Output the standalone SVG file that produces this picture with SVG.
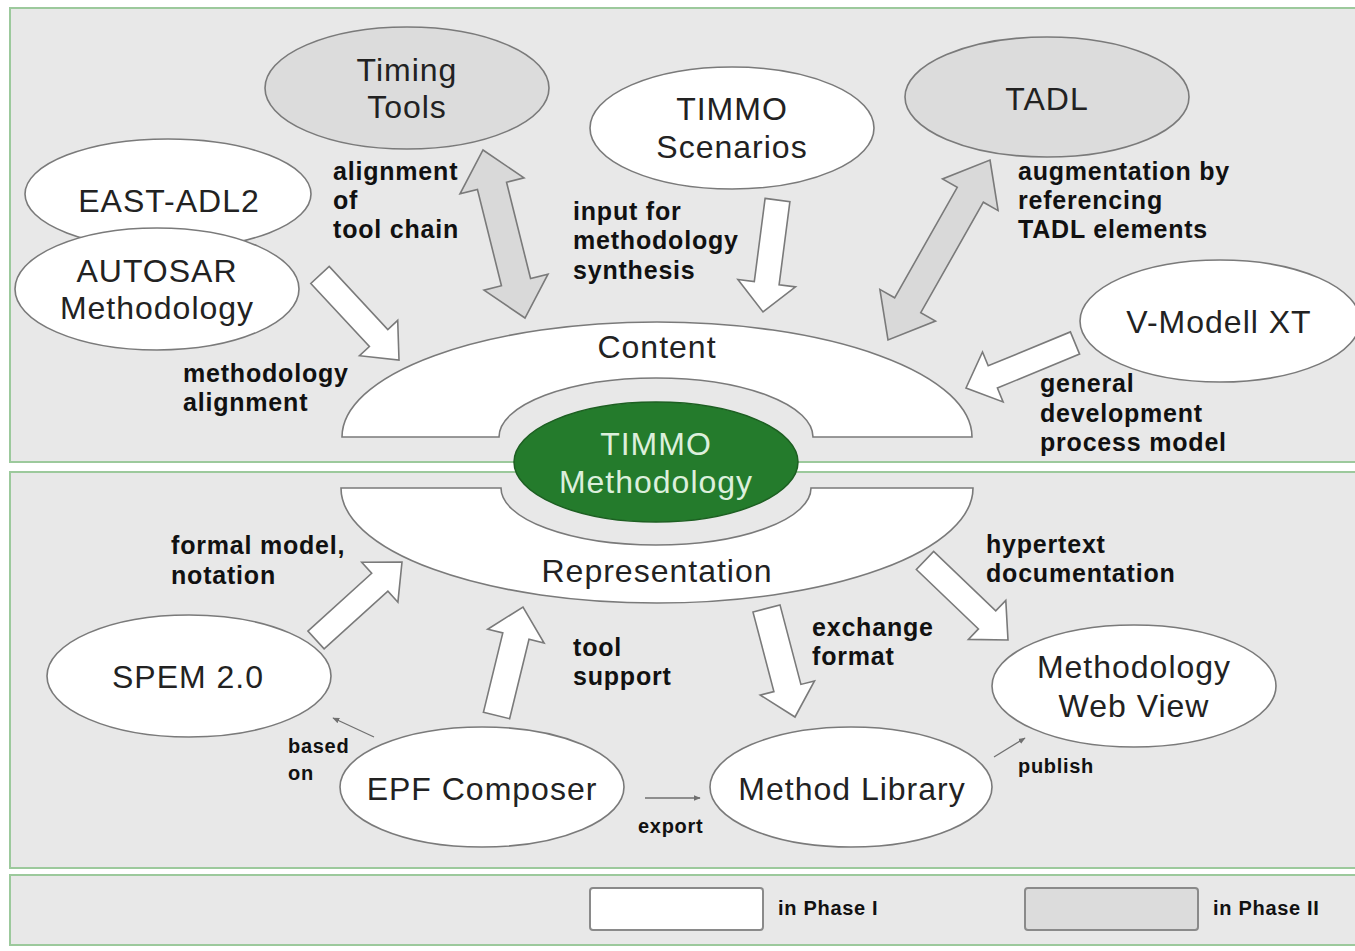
<svg xmlns="http://www.w3.org/2000/svg" width="1355" height="951" viewBox="0 0 1355 951">
<style>
.panel{fill:#e8e8e8;stroke:#9cc99c;stroke-width:2}
.wn{fill:#ffffff;stroke:#7a7a7a;stroke-width:1.6}
.gn{fill:#dcdcdc;stroke:#7a7a7a;stroke-width:1.6}
.nt{font-family:"Liberation Sans",Arial,sans-serif;font-size:32px;fill:#222;text-anchor:middle;letter-spacing:1px}
.lb{font-family:"Liberation Sans",Arial,sans-serif;font-size:25px;font-weight:bold;fill:#111;letter-spacing:0.8px}
.sm{font-family:"Liberation Sans",Arial,sans-serif;font-size:20px;font-weight:bold;fill:#111;letter-spacing:0.7px}
.wa{fill:#ffffff;stroke:#7a7a7a;stroke-width:1.6;stroke-linejoin:miter}
.ga{fill:#d9d9d9;stroke:#7a7a7a;stroke-width:1.6}
.thin{stroke:#707070;stroke-width:1.3;fill:none;marker-end:url(#ah)}
</style>
<defs>
<marker id="ah" viewBox="0 0 10 10" refX="9" refY="5" markerWidth="7" markerHeight="7" orient="auto" markerUnits="userSpaceOnUse">
<path d="M0,1 L10,5 L0,9 Z" fill="#707070"/>
</marker>
</defs>
<rect width="1355" height="951" fill="#ffffff"/>
<g id="panels">
<rect class="panel" x="10" y="8" width="1352" height="454"/>
<rect class="panel" x="10" y="472" width="1352" height="396"/>
<rect class="panel" x="10" y="875" width="1352" height="70"/>
</g>
<g id="content">
<path class="wn" d="M342,437 A315,115 0 0 1 972,437 L813,437 A157,59 0 0 0 499,437 Z"/>
<text class="nt" x="657" y="358">Content</text>
</g>
<g id="representation">
<path class="wn" d="M341,488 L501,488 A155,57 0 0 0 811,488 L973,488 A316,115 0 0 1 341,488 Z"/>
<text class="nt" x="657" y="582">Representation</text>
</g>
<g id="timmo-methodology">
<ellipse cx="656" cy="462" rx="142" ry="60" fill="#247b2c" stroke="#1d5f22" stroke-width="1.5"/>
<text class="nt" x="656" y="455" style="fill:#dcefdc">TIMMO</text>
<text class="nt" x="656" y="493" style="fill:#dcefdc">Methodology</text>
</g>
<g id="timing-tools">
<ellipse class="gn" cx="407" cy="88" rx="142" ry="61"/>
<text class="nt" x="407" y="81">Timing</text>
<text class="nt" x="407" y="118">Tools</text>
</g>
<g id="east-adl2">
<ellipse class="wn" cx="168" cy="194" rx="143" ry="55"/>
<text class="nt" x="169" y="212">EAST-ADL2</text>
</g>
<g id="autosar">
<ellipse class="wn" cx="157" cy="289" rx="142" ry="61"/>
<text class="nt" x="157" y="282">AUTOSAR</text>
<text class="nt" x="157" y="319">Methodology</text>
</g>
<g id="timmo-scenarios">
<ellipse class="wn" cx="732" cy="128" rx="142" ry="61"/>
<text class="nt" x="732" y="120">TIMMO</text>
<text class="nt" x="732" y="158">Scenarios</text>
</g>
<g id="tadl">
<ellipse class="gn" cx="1047" cy="97" rx="142" ry="60"/>
<text class="nt" x="1047" y="110">TADL</text>
</g>
<g id="v-modell">
<ellipse class="wn" cx="1220" cy="321" rx="140" ry="61"/>
<text class="nt" x="1219" y="333">V-Modell XT</text>
</g>
<g id="spem">
<ellipse class="wn" cx="189" cy="676" rx="142" ry="61"/>
<text class="nt" x="188" y="688">SPEM 2.0</text>
</g>
<g id="epf-composer">
<ellipse class="wn" cx="482" cy="787" rx="142" ry="60"/>
<text class="nt" x="482" y="800">EPF Composer</text>
</g>
<g id="method-library">
<ellipse class="wn" cx="851" cy="787" rx="141" ry="60"/>
<text class="nt" x="852" y="800">Method Library</text>
</g>
<g id="web-view">
<ellipse class="wn" cx="1134" cy="686" rx="142" ry="61"/>
<text class="nt" x="1134" y="678">Methodology</text>
<text class="nt" x="1134" y="717">Web View</text>
</g>
<g id="connectors">
<polygon class="ga" points="483,150 524,177.9 506.55,182.3 530.55,278.5 548,274.1 525,318 484,290.1 501.45,285.7 477.45,189.5 460,193.9"/>
<polygon class="ga" points="990,160 998.1,210.6 983.35,202.2 920.75,312.6 935.5,321 888,340 879.9,289.4 894.65,297.8 957.25,187.4 942.5,179"/>
<polygon class="wa" points="310.8,283.5 369.4,346.5 359.5,355.7 399,360 397.7,320.3 387.8,329.5 329.2,266.5"/>
<polygon class="wa" points="765.1,198.4 789.9,201.6 779.1,284.8 795.5,286.9 763,312 737.9,279.5 754.3,281.6"/>
<polygon class="wa" points="1070.4,331.9 1079.6,354.1 997.4,388 1003.1,401.9 966,388 982.5,351.9 988.2,365.8"/>
<polygon class="wa" points="307.9,631.1 371.7,573.3 361.7,562.2 402,562 397.9,602.2 387.9,591.1 324.1,648.9"/>
<polygon class="wa" points="483.4,712.3 509.6,718.7 529,639.3 544.1,643 523,607 487.7,629.2 502.8,632.9"/>
<polygon class="wa" points="753,612.1 773.9,691.6 760.3,695.1 795,717 814.5,680.9 800.9,684.4 780,604.9"/>
<polygon class="wa" points="916.35,569.5 978.45,628.9 968.4,639.4 1008,640 1005.8,600.4 995.75,610.9 933.65,551.5"/>
<line class="thin" x1="374" y1="737" x2="333" y2="718"/>
<line class="thin" x1="645" y1="798" x2="700" y2="798"/>
<line class="thin" x1="994" y1="757" x2="1025" y2="738"/>
</g>
<g id="labels">
<text class="lb" x="333" y="180">alignment</text>
<text class="lb" x="333" y="209">of</text>
<text class="lb" x="333" y="238">tool chain</text>
<text class="lb" x="183" y="382">methodology</text>
<text class="lb" x="183" y="411">alignment</text>
<text class="lb" x="573" y="220">input for</text>
<text class="lb" x="573" y="249">methodology</text>
<text class="lb" x="573" y="279">synthesis</text>
<text class="lb" x="1018" y="180">augmentation by</text>
<text class="lb" x="1018" y="209">referencing</text>
<text class="lb" x="1018" y="238">TADL elements</text>
<text class="lb" x="1040" y="392">general</text>
<text class="lb" x="1040" y="422">development</text>
<text class="lb" x="1040" y="451">process model</text>
<text class="lb" x="171" y="554">formal model,</text>
<text class="lb" x="171" y="584">notation</text>
<text class="lb" x="573" y="656">tool</text>
<text class="lb" x="573" y="685">support</text>
<text class="lb" x="812" y="636">exchange</text>
<text class="lb" x="812" y="665">format</text>
<text class="lb" x="986" y="553">hypertext</text>
<text class="lb" x="986" y="582">documentation</text>
<text class="sm" x="288" y="753">based</text>
<text class="sm" x="288" y="780">on</text>
<text class="sm" x="638" y="833">export</text>
<text class="sm" x="1018" y="773">publish</text>
</g>
<g id="legend">
<rect x="590" y="888" width="173" height="42" rx="3" fill="#ffffff" stroke="#8a8a8a" stroke-width="2"/>
<text class="sm" x="778" y="915">in Phase I</text>
<rect x="1025" y="888" width="173" height="42" rx="3" fill="#dcdcdc" stroke="#8a8a8a" stroke-width="2"/>
<text class="sm" x="1213" y="915">in Phase II</text>
</g>
</svg>
